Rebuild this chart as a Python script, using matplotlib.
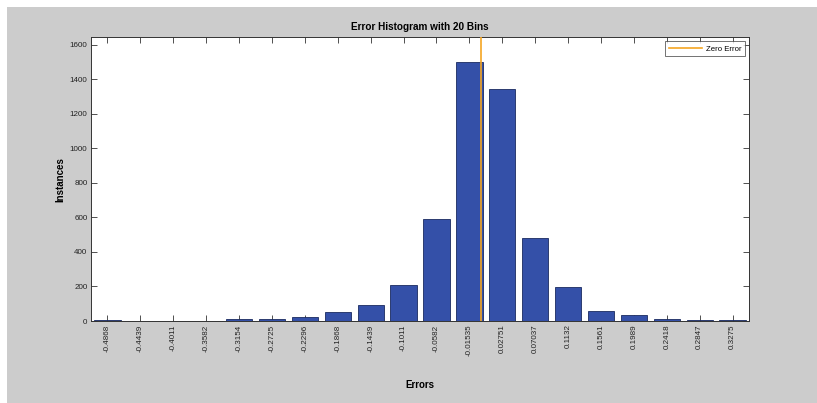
import matplotlib
matplotlib.use("Agg")
import matplotlib.pyplot as plt
from matplotlib.patches import Rectangle

# Histogram of errors, 20 bins
bin_labels = ["-0.4868", "-0.4439", "-0.4011", "-0.3582", "-0.3154", "-0.2725",
              "-0.2296", "-0.1868", "-0.1439", "-0.1011", "-0.0582", "-0.01535",
              "0.02751", "0.07037", "0.1132", "0.1561", "0.1989", "0.2418",
              "0.2847", "0.3275"]
bin_centers = [float(s) for s in bin_labels]
instances = [3, 2, 2, 2, 10, 10, 23, 54, 91, 207, 590, 1498, 1345, 478,
             195, 58, 35, 10, 7, 7]
zero_error = 0.0

plt.rcParams["font.family"] = ["Liberation Sans", "DejaVu Sans"]

W, H = 817, 403
fig = plt.figure(figsize=(W / 100, H / 100), dpi=100)
fig.patch.set_facecolor("white")
fig.patches.append(Rectangle((7 / W, 0), 1 - 7 / W, 1 - 7 / H,
                             transform=fig.transFigure, facecolor="#cccccc",
                             edgecolor="none", zorder=-10))

ax = fig.add_axes([91 / W, (H - 321) / H, 658 / W, (321 - 37.3) / H])
ax.set_facecolor("white")

step = (bin_centers[-1] - bin_centers[0]) / (len(bin_centers) - 1)
ax.bar(bin_centers, instances, width=0.8 * step, color="#3450a8",
       edgecolor="#1a2a60", linewidth=0.6, zorder=2)
ax.axvline(zero_error, color="#f5a623", linewidth=1.2, zorder=3,
           label="Zero Error")

ax.set_xlim(bin_centers[0] - step / 2, bin_centers[-1] + step / 2)
ax.set_ylim(0, 1643)
ax.set_xticks(bin_centers)
ax.set_xticklabels(bin_labels, rotation=90, fontsize=5.8)
ax.set_yticks(range(0, 1601, 200))
ax.tick_params(axis="y", labelsize=5.8)
ax.tick_params(direction="in", top=True, right=True, length=4, width=0.6,
               color="#333333", labelcolor="#222222", pad=2.5)
for sp in ax.spines.values():
    sp.set_linewidth(0.7)
    sp.set_color("#333333")

ax.set_title("Error Histogram with 20 Bins", fontsize=7.2, fontweight="bold",
             pad=5)
ax.set_xlabel("Errors", fontsize=7, fontweight="bold", labelpad=17)
ax.set_ylabel("Instances", fontsize=7, fontweight="bold", labelpad=3)

leg = ax.legend(loc="upper right", fontsize=5.6, frameon=True, fancybox=False,
                handlelength=4.2, borderpad=0.5, handletextpad=0.5,
                borderaxespad=0.5)
leg.get_frame().set_edgecolor("#333333")
leg.get_frame().set_linewidth(0.6)

fig.savefig("out.png", dpi=100, facecolor=fig.get_facecolor())
